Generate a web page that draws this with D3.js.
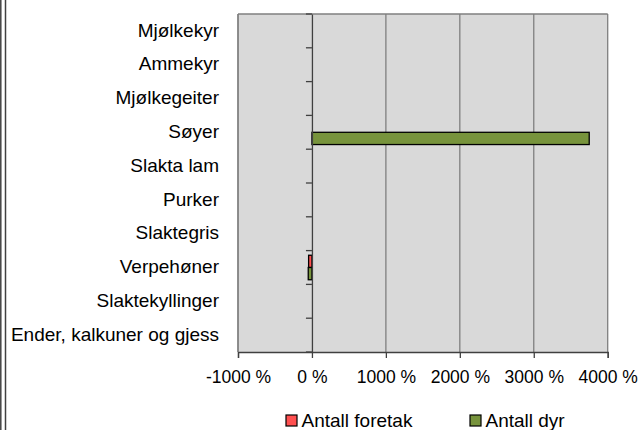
<!DOCTYPE html>
<html>
<head>
<meta charset="utf-8">
<script src="https://cdn.jsdelivr.net/npm/d3@7"></script>
<style>
  body { margin: 0; background: #fff; }
  svg text { font-family: "Liberation Sans", Arial, sans-serif; fill: #000; }
</style>
</head>
<body>
<div class="chart"></div>
<script>
var width = 638, height = 430;

// data
var categories = ["Mjølkekyr", "Ammekyr", "Mjølkegeiter", "Søyer", "Slakta lam",
  "Purker", "Slaktegris", "Verpehøner", "Slaktekyllinger", "Ender, kalkuner og gjess"];
var foretak = [0, 0, 0, 0, 0, 0, 0, -45, 0, 0];
var dyr = [0, 0, 0, 3750, 0, 0, 0, -50, 0, 0];
var series = ["Antall foretak", "Antall dyr"];
var seriesColors = ["#FF5050", "#77933C"];
var xTicks = [-1000, 0, 1000, 2000, 3000, 4000];

var margin = {top: 14, left: 238};
var plotW = 607.7 - margin.left, plotH = 352 - margin.top;

var svg = d3.select(".chart").append("svg")
    .attr("width", width)
    .attr("height", height);

// outer frame lines on the left
svg.append("line").attr("x1", 0.8).attr("x2", 0.8).attr("y1", 0).attr("y2", height)
    .attr("stroke", "#404040").attr("stroke-width", 1.5);
svg.append("line").attr("x1", 5.5).attr("x2", 5.5).attr("y1", 0).attr("y2", height)
    .attr("stroke", "#404040").attr("stroke-width", 1.5);

var g = svg.append("g")
    .attr("transform", "translate(" + margin.left + "," + margin.top + ")");

var x = d3.scaleLinear().domain([-1000, 4000]).range([0, plotW]);
var y = d3.scaleBand().domain(categories).range([0, plotH]);
var y1 = d3.scaleBand().domain(series).range([0, y.bandwidth()]).paddingOuter(0.38);

// plot area
g.append("rect")
    .attr("width", plotW).attr("height", plotH)
    .attr("fill", "#D9D9D9");

// vertical gridlines
g.selectAll(".grid")
    .data(xTicks.filter(function(d){ return d != 0; }))
  .enter().append("line")
    .attr("class", "grid")
    .attr("x1", function(d){ return x(d); }).attr("x2", function(d){ return x(d); })
    .attr("y1", 0).attr("y2", plotH)
    .attr("stroke", "#7F7F7F").attr("stroke-width", 1.3);

g.append("line")
    .attr("x1", 0).attr("x2", plotW).attr("y1", 0).attr("y2", 0)
    .attr("stroke", "#7F7F7F").attr("stroke-width", 1.3);

// bars
var rows = categories.map(function(c, i){
  return {cat: c, values: [{s: series[0], v: foretak[i]}, {s: series[1], v: dyr[i]}]};
});

var groups = g.selectAll(".row")
    .data(rows)
  .enter().append("g")
    .attr("class", "row")
    .attr("transform", function(d){ return "translate(0," + y(d.cat) + ")"; });

groups.selectAll("rect")
    .data(function(d){ return d.values.filter(function(v){ return v.v != 0; }); })
  .enter().append("rect")
    .attr("x", function(d){ return x(Math.min(0, d.v)); })
    .attr("width", function(d){ return Math.abs(x(d.v) - x(0)); })
    .attr("y", function(d){ return y1(d.s); })
    .attr("height", y1.bandwidth())
    .attr("fill", function(d){ return seriesColors[series.indexOf(d.s)]; })
    .attr("stroke", "#000").attr("stroke-width", 1.3);

// category axis at zero
g.append("g")
    .attr("transform", "translate(" + x(0) + ",0)")
    .call(d3.axisLeft(y).tickSize(0).tickFormat(""))
    .call(function(a){ a.select(".domain").attr("stroke", "#404040").attr("stroke-width", 1.3); });

g.selectAll(".ytick")
    .data(d3.range(categories.length + 1))
  .enter().append("line")
    .attr("class", "ytick")
    .attr("x1", x(0) - 6).attr("x2", x(0))
    .attr("y1", function(i){ return i * y.step(); })
    .attr("y2", function(i){ return i * y.step(); })
    .attr("stroke", "#404040").attr("stroke-width", 1.3);

g.selectAll(".cat-label")
    .data(categories)
  .enter().append("text")
    .attr("class", "cat-label")
    .attr("x", -19)
    .attr("y", function(d){ return y(d) + y.bandwidth() / 2; })
    .attr("dy", ".3em")
    .style("text-anchor", "end")
    .style("font-size", "19px")
    .text(function(d){ return d; });

// value axis
var xAxis = g.append("g")
    .attr("transform", "translate(0," + plotH + ")")
    .call(d3.axisBottom(x).tickValues(xTicks).tickSize(6)
      .tickFormat(function(d){ return d + " %"; }));
xAxis.select(".domain").attr("stroke", "#404040").attr("stroke-width", 1.3);
xAxis.selectAll(".tick line").attr("stroke", "#404040").attr("stroke-width", 1.3);
xAxis.selectAll(".tick text")
    .attr("y", 31).attr("dy", 0)
    .style("font-size", "17.5px")
    .style("font-family", "Liberation Sans, Arial, sans-serif")
    .attr("fill", "#000");

// left plot border
g.append("line")
    .attr("x1", 0).attr("x2", 0).attr("y1", 0).attr("y2", plotH)
    .attr("stroke", "#7F7F7F").attr("stroke-width", 1.3);

// legend
var legendX = [286, 470];
var legend = svg.selectAll(".legend")
    .data(series)
  .enter().append("g")
    .attr("class", "legend")
    .attr("transform", function(d, i){ return "translate(" + legendX[i] + ",415)"; });

legend.append("rect")
    .attr("width", 11).attr("height", 11)
    .attr("fill", function(d, i){ return seriesColors[i]; })
    .attr("stroke", "#000").attr("stroke-width", 1.2);

legend.append("text")
    .attr("x", 15.5).attr("y", 11.5)
    .style("font-size", "19px")
    .text(function(d){ return d; });
</script>
</body>
</html>
